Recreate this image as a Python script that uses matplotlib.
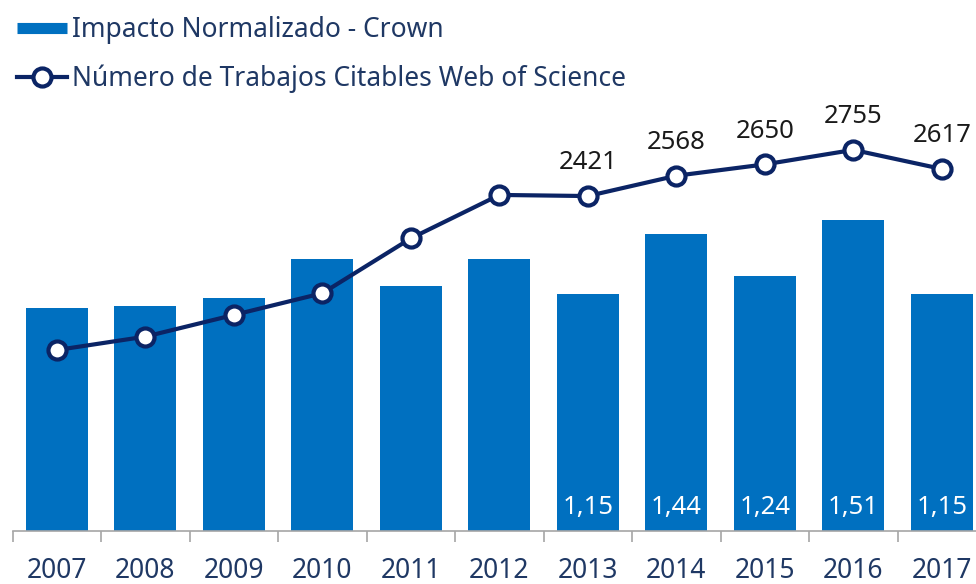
import numpy as np
import matplotlib.pyplot as plt
from matplotlib.lines import Line2D

plt.rcParams['font.family'] = ['Noto Sans', 'DejaVu Sans']

# data
years = ['2007', '2008', '2009', '2010', '2011', '2012',
         '2013', '2014', '2015', '2016', '2017']
impacto = [1.08, 1.09, 1.13, 1.32, 1.19, 1.32, 1.15, 1.44, 1.24, 1.51, 1.15]
trabajos = [1307, 1404, 1561, 1718, 2115, 2429, 2421, 2568, 2650, 2755, 2617]
labeled_from = 6  # only 2013 onwards carry value labels

bar_color = '#0070C0'
line_color = '#0B2465'
text_navy = '#1F3864'
axis_gray = '#A6A6A6'

fig = plt.figure(figsize=(9.76, 5.84), dpi=100)
ax = fig.add_axes([0.013, 0.0913, 0.9973, 0.7375])
x = np.arange(len(years))

ax.bar(x, impacto, width=0.70, color=bar_color, zorder=2)
ax.set_xlim(-0.5, 10.5)
ax.set_ylim(0, 2.093)

for i in range(labeled_from, len(years)):
    lab = f'{impacto[i]:.2f}'.replace('.', ',')
    ax.annotate(lab, (x[i], 0), xytext=(0, 17), textcoords='offset points',
                ha='center', va='center', color='white', fontsize=18.5)

# axis styling
for s in ['top', 'left', 'right']:
    ax.spines[s].set_visible(False)
ax.spines['bottom'].set_color(axis_gray)
ax.spines['bottom'].set_linewidth(1.2)
ax.set_yticks([])
ax.set_xticks(x)
ax.set_xticklabels(years, fontsize=19, color=text_navy)
ax.tick_params(axis='x', which='major', length=0, pad=19)
ax.set_xticks(np.arange(-0.5, 11, 1), minor=True)
ax.tick_params(axis='x', which='minor', length=8, width=1.2, color=axis_gray)

ax2 = ax.twinx()
ax2.plot(x, trabajos, color=line_color, lw=3, marker='o', markersize=13,
         markerfacecolor='white', markeredgecolor=line_color, markeredgewidth=3,
         zorder=3)
ax2.set_ylim(0, 3116)
ax2.set_yticks([])
for s in ax2.spines.values():
    s.set_visible(False)

for i in range(labeled_from, len(years)):
    ax2.annotate(str(trabajos[i]), (x[i], trabajos[i]), xytext=(0, 24),
                 textcoords='offset points', ha='center', va='center',
                 color='#1A1A1A', fontsize=18.5)

# legend
bar_proxy = Line2D([], [], color=bar_color, lw=8, solid_capstyle='butt')
line_proxy = Line2D([], [], color=line_color, lw=3, marker='o', markersize=13,
                    markerfacecolor='white', markeredgecolor=line_color,
                    markeredgewidth=3)
leg = fig.legend([bar_proxy, line_proxy],
                 ['Impacto Normalizado - Crown',
                  'Número de Trabajos Citables Web of Science'],
                 loc='upper left', bbox_to_anchor=(0.017, 0.972), frameon=False,
                 fontsize=19, handlelength=1.9, handletextpad=0.2,
                 labelspacing=0.78, borderpad=0.0, borderaxespad=0.0)
for t in leg.get_texts():
    t.set_color(text_navy)

fig.savefig('out.png', dpi=100)
